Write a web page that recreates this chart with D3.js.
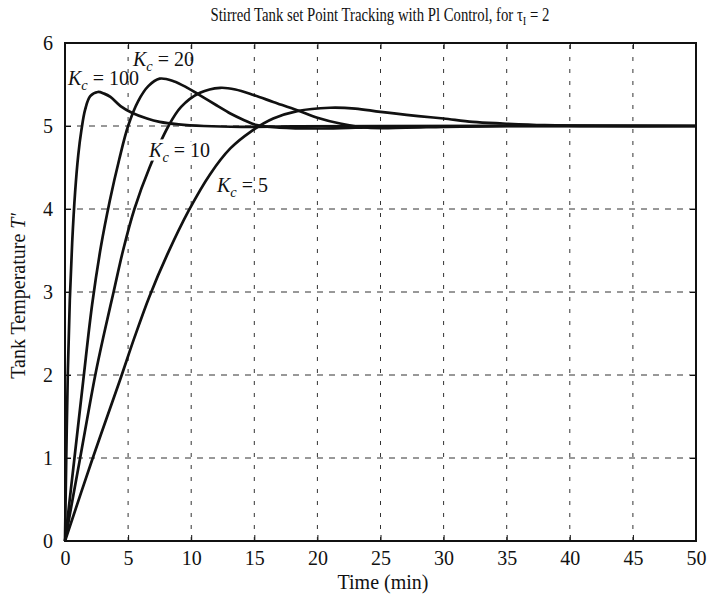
<!DOCTYPE html>
<html><head><meta charset="utf-8">
<script src="https://cdn.jsdelivr.net/npm/d3@7"></script>
<style>
body{margin:0;background:#fff;}
text{font-family:"Liberation Serif","Times New Roman",serif;fill:#111;}
</style></head>
<body><svg id="c" width="708" height="598"></svg>
<script>
// ---- data ----
const xTicks = [0,5,10,15,20,25,30,35,40,45,50];
const yTicks = [0,1,2,3,4,5,6];
const seriesNames = ["100","20","10","5"];
const t100 = [0,0.1,0.22,0.38,0.57,0.8,1.05,1.3,1.6,2.0,2.6,3.1,3.6,4.4,5.3,6.5,7.5,9,11,14,18,25,50];
const T100 = [0,1,2,2.9,3.6,4.2,4.65,4.95,5.2,5.36,5.41,5.39,5.35,5.24,5.16,5.09,5.05,5.02,5.0,4.99,4.995,5.0,5.0];
const t20 = [0,0.75,1.45,2.15,2.85,3.55,4.3,5.0,5.8,6.6,7.5,8.6,9.7,10.7,12,13.1,14.2,15.2,17,20,23,27,35,50];
const T20 = [0,1,1.94,2.85,3.55,4.1,4.6,5.0,5.3,5.48,5.57,5.54,5.46,5.37,5.25,5.15,5.07,5.01,4.98,4.97,4.98,4.99,5.0,5.0];
const t10 = [0,1.2,2.4,3.1,3.85,4.6,5.5,6.7,8.2,9.2,10.7,12.3,13.5,15,16.5,18.4,20,21.8,24,27,30,35,50];
const T10 = [0,1,2,2.5,3,3.5,4,4.5,5.0,5.23,5.4,5.46,5.44,5.37,5.29,5.19,5.1,5.03,4.98,4.98,4.99,5.0,5.0];
const t5 = [0,2.2,4.36,5.5,6.7,8.1,9.8,11.5,13.1,14.7,16.5,18.4,21,23,25,28,30,32.3,34.7,38,42,50];
const T5 = [0,1,1.94,2.45,2.95,3.45,3.98,4.42,4.73,4.93,5.09,5.18,5.22,5.21,5.17,5.12,5.09,5.05,5.03,5.01,5.0,5.0];
// label anchors (data coords: time, temperature)
const labelT = [0.24, 5.39, 6.66, 12.04];
const labelV = [5.49, 5.72, 4.63, 4.21];

const svg = d3.select("#c");
const x = d3.scaleLinear([0,50],[65,696]);
const y = d3.scaleLinear([0,6],[541,43]);

// grid
const g = svg.append("g");
g.selectAll(".vg").data(xTicks.slice(1,-1)).join("line")
  .attr("x1",d=>x(d)).attr("x2",d=>x(d)).attr("y1",y(0)).attr("y2",y(6))
  .attr("stroke","#333").attr("stroke-width",1).attr("stroke-dasharray","4,8");
g.selectAll(".hg").data(yTicks.slice(1,-1)).join("line")
  .attr("x1",x(0)).attr("x2",x(50)).attr("y1",d=>y(d)).attr("y2",d=>y(d))
  .attr("stroke","#333").attr("stroke-width",1).attr("stroke-dasharray","6,6");

// axes
const fs = 20;
const xa = svg.append("g").attr("transform",`translate(0,${y(0)})`)
  .call(d3.axisBottom(x).tickValues(xTicks).tickSize(-6).tickPadding(10).tickFormat(d3.format("d")));
const xt = svg.append("g").attr("transform",`translate(0,${y(6)})`)
  .call(d3.axisTop(x).tickValues(xTicks).tickSize(-6).tickFormat(""));
const ya = svg.append("g").attr("transform",`translate(${x(0)},0)`)
  .call(d3.axisLeft(y).tickValues(yTicks).tickSize(-6).tickPadding(12).tickFormat(d3.format("d")));
const yr = svg.append("g").attr("transform",`translate(${x(50)},0)`)
  .call(d3.axisRight(y).tickValues(yTicks).tickSize(-6).tickFormat(""));
[xa,xt,ya,yr].forEach(a=>{
  a.select(".domain").remove();
  a.selectAll("line").attr("stroke","#111").attr("stroke-width",1);
  a.selectAll("text").attr("font-size",fs).attr("font-family","Liberation Serif, serif").attr("fill","#111");
});
svg.append("rect").attr("x",x(0)).attr("y",y(6)).attr("width",x(50)-x(0)).attr("height",y(0)-y(6))
  .attr("fill","none").attr("stroke","#111").attr("stroke-width",2);

// curves
const series = [[t100,T100],[t20,T20],[t10,T10],[t5,T5]];
const line = d3.line().x(d=>x(d[0])).y(d=>y(d[1])).curve(d3.curveCatmullRom.alpha(0.5));
series.forEach(([ts,vs])=>{
  svg.append("path").datum(ts.map((t,i)=>[t,vs[i]]))
    .attr("d",line).attr("fill","none").attr("stroke","#111").attr("stroke-width",2.7)
    .attr("stroke-linejoin","round");
});

// labels
seriesNames.forEach((n,i)=>{
  const tx = svg.append("text").attr("x",x(labelT[i])).attr("y",y(labelV[i])).attr("font-size",fs);
  if(n==="10") tx.attr("stroke","#fff").attr("stroke-width",7).attr("paint-order","stroke");
  tx.append("tspan").attr("font-style","italic").text("K");
  tx.append("tspan").attr("font-style","italic").attr("font-size",fs*0.72).attr("dy",5).text("c");
  tx.append("tspan").attr("dy",-5).text(" = "+n);
});

// title (horizontally condensed like the reference)
const title = svg.append("text").attr("transform","translate(380,21) scale(0.81,1)")
  .attr("text-anchor","middle").attr("font-size",18.2);
title.append("tspan").text("Stirred Tank set Point Tracking with Pl Control, for τ");
title.append("tspan").attr("font-size",13).attr("dy",4).text("I");
title.append("tspan").attr("dy",-4).text(" = 2");

// axis titles
svg.append("text").attr("x",383).attr("y",589).attr("text-anchor","middle").attr("font-size",fs).text("Time (min)");
const yl = svg.append("text").attr("transform","translate(25,296) rotate(-90)").attr("text-anchor","middle").attr("font-size",fs);
yl.append("tspan").text("Tank Temperature ");
yl.append("tspan").attr("font-style","italic").text("T′");
</script></body></html>
